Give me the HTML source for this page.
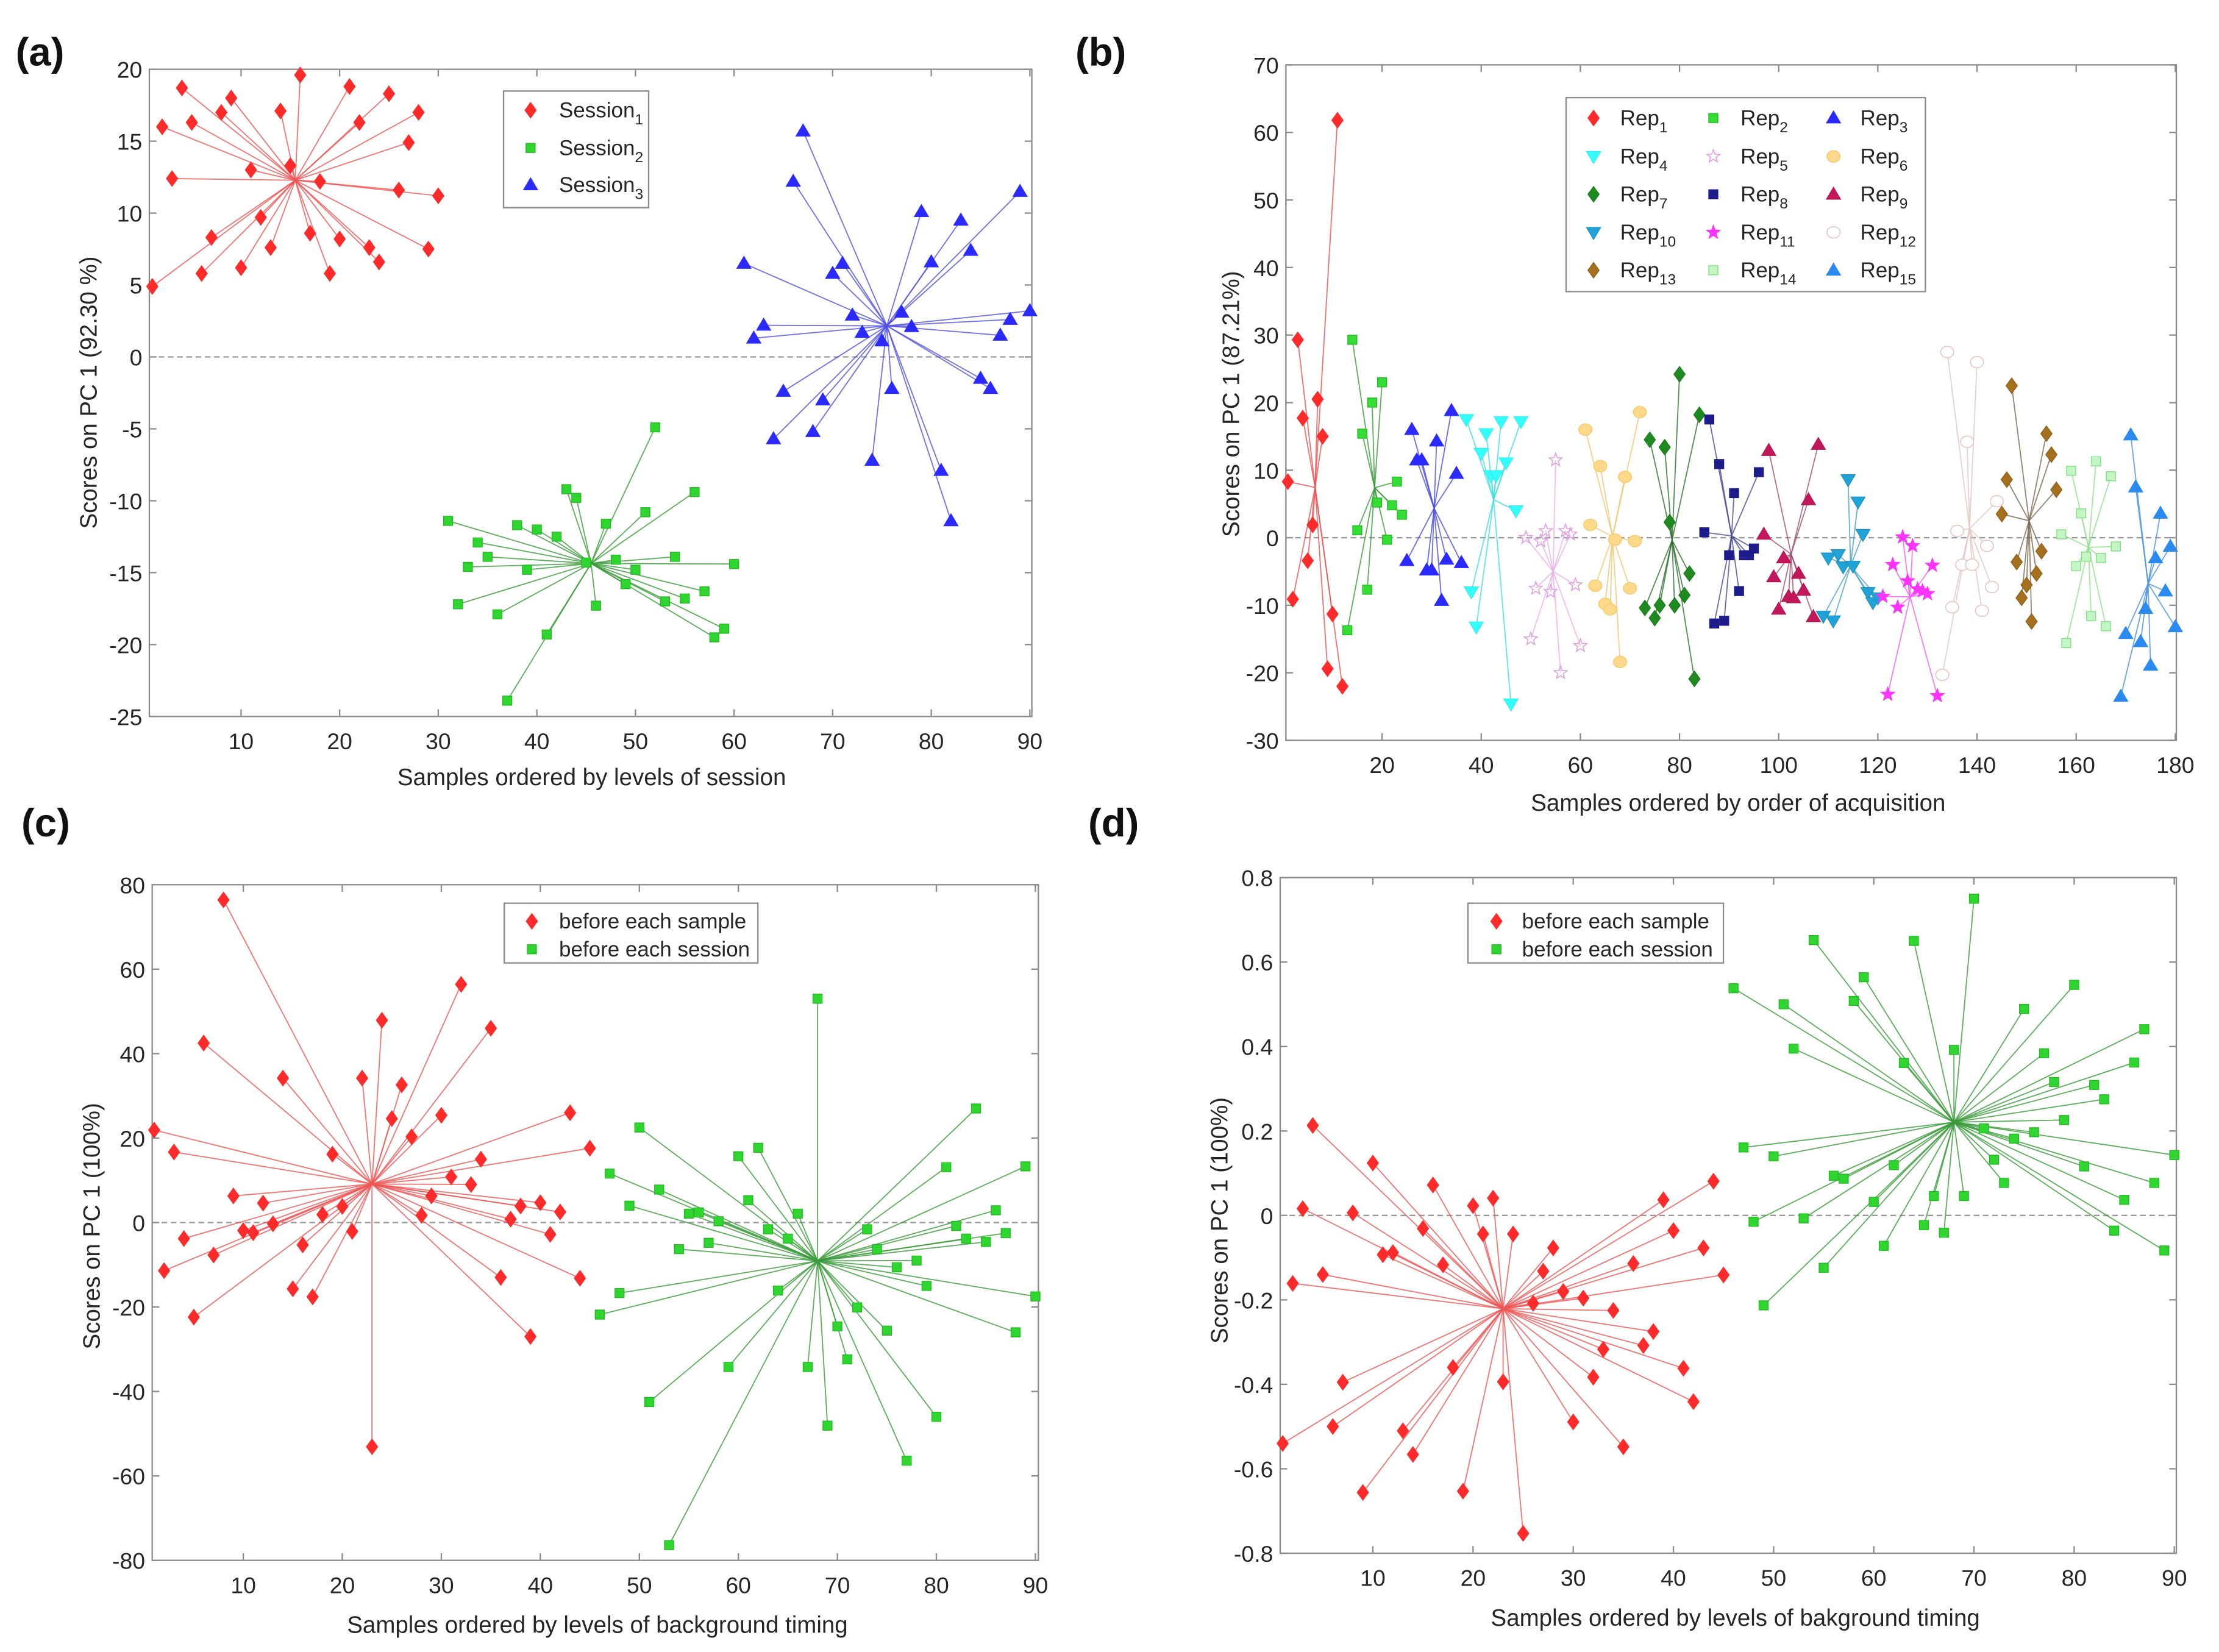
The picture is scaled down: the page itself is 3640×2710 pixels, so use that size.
<!DOCTYPE html>
<html><head><meta charset="utf-8"><style>
html,body{margin:0;padding:0;background:#fff;}
svg{display:block;font-family:"Liberation Sans",Arial,sans-serif;}
</style></head><body>
<svg id="fig" xmlns="http://www.w3.org/2000/svg" width="3640" height="2710" viewBox="0 0 1560 1161.43"></svg>
<script>
// ---------- Panel (a) data: PC1 scores per session (sample index = position) ----------
const aSession1 = [4.9,16,12.4,18.7,16.3,5.8,8.3,17,18,6.2,13,9.7,7.6,17.1,13.3,19.6,8.6,12.2,5.8,8.2,18.8,16.3,7.6,6.6,18.3,11.6,14.9,17,7.5,11.2];
const aSession2 = [-11.4,-17.2,-14.6,-12.9,-13.9,-17.9,-23.9,-11.7,-14.8,-12,-19.3,-12.5,-9.2,-9.8,-14.3,-17.3,-11.6,-14.1,-15.8,-14.8,-10.8,-4.9,-17,-13.9,-16.8,-9.4,-16.3,-19.5,-18.9,-14.4];
const aSession3 = [6.5,1.3,2.2,-5.7,-2.4,12.2,15.7,-5.2,-3,5.8,6.5,2.9,1.7,-7.2,1.1,-2.2,3.1,2.1,10.1,6.6,-7.9,-11.4,9.5,7.4,-1.5,-2.2,1.5,2.6,11.5,3.2];
const aXTicks = [10,20,30,40,50,60,70,80,90];
const aYTicks = [-25,-20,-15,-10,-5,0,5,10,15,20];
// ---------- Panel (b) data: 15 replicates x 12 samples ----------
const bRep1 = [8.3,-9.1,29.3,17.7,-3.4,1.9,20.5,15,-19.4,-11.3,61.8,-22];
const bRep2 = [-13.7,29.3,1.1,15.4,-7.7,20,5.2,23,-0.3,4.8,8.3,3.4];
const bRep3 = [-3.4,16,11.5,11.5,-4.8,-4.8,14.3,-9.3,-3.2,18.8,9.5,-3.7];
const bRep4 = [17.5,-8,-13.2,12.5,15.4,9.2,9.2,17.2,11.1,-24.6,4,17.2];
const bRep5 = [0,-15,-7.5,-0.5,1,-8,11.5,-20,1,0.5,-7,-16];
const bRep6 = [16,1.9,-7.1,10.6,-9.8,-10.6,-0.3,-18.4,9,-7.5,-0.5,18.6];
const bRep7 = [-10.4,14.5,-11.9,-10,13.4,2.3,-10,24.2,-8.5,-5.3,-20.9,18.2];
const bRep8 = [0.8,17.5,-12.7,10.9,-12.3,-2.6,6.6,-7.9,-2.6,-2.6,-1.6,9.7];
const bRep9 = [0.5,12.9,-5.8,-10.6,-3,-8.7,-8.9,-5.3,-7.8,5.6,-11.7,13.8];
const bRep10 = [-11.6,-3,-12.3,-2.5,-4.3,8.6,-4.2,5.3,0.5,-8.1,-9.6,-8.9];
const bRep11 = [-8.7,-23.2,-4,-10.3,0.1,-6.4,-1.2,-7.6,-7.9,-8.3,-4.1,-23.4];
const bRep12 = [-20.3,27.5,-10.3,1,-4,14.2,-4,26,-10.8,-1.2,-7.3,5.4];
const bRep13 = [3.5,8.6,22.5,-3.6,-8.9,-7,-12.4,-5.3,-2,15.4,12.3,7.1];
const bRep14 = [0.5,-15.6,9.9,-4.2,3.6,-2.8,-11.6,11.3,-3,-13.1,9.1,-1.3];
const bRep15 = [-23.5,-14.2,15.2,7.5,-15.4,-10.5,-18.9,-3,3.6,-7.9,-1.3,-13.2];
const bXTicks = [20,40,60,80,100,120,140,160,180];
const bYTicks = [-30,-20,-10,0,10,20,30,40,50,60,70];
// ---------- Panel (c) data ----------
const cSample = [21.9,-11.4,16.7,-3.8,-22.4,42.5,-7.7,76.4,6.3,-1.9,-2.4,4.6,-0.3,34.2,-15.7,-5.3,-17.6,1.9,16.2,3.8,-2.1,34.2,-53.1,47.9,24.6,32.6,20.3,1.7,6.3,25.4,10.8,56.4,9,15,46,-13,0.8,3.9,-27,4.7,-2.8,2.5,26,-13.2,17.6];
const cSession = [-21.8,11.6,-16.7,4,22.5,-42.5,7.8,-76.4,-6.3,2.1,2.4,-4.8,0.3,-34.2,15.7,5.3,17.7,-1.6,-16.1,-3.8,2.1,-34.2,53,-48.1,-24.6,-32.4,-20.1,-1.6,-6.3,-25.6,-10.6,-56.4,-9,-15,-46,13.1,-0.8,-3.8,27,-4.6,2.9,-2.5,-26,13.3,-17.5];
const cXTicks = [10,20,30,40,50,60,70,80,90];
const cYTicks = [-80,-60,-40,-20,0,20,40,60,80];
// ---------- Panel (d) data ----------
const dSample = [-0.54,-0.161,0.016,0.213,-0.14,-0.5,-0.395,0.006,-0.656,0.124,-0.093,-0.088,-0.51,-0.566,-0.031,0.072,-0.117,-0.36,-0.653,0.023,-0.044,0.041,-0.394,-0.044,-0.753,-0.208,-0.132,-0.077,-0.18,-0.489,-0.196,-0.383,-0.317,-0.225,-0.548,-0.114,-0.308,-0.275,0.037,-0.036,-0.362,-0.441,-0.077,0.081,-0.141];
const dSession = [0.538,0.161,-0.015,-0.213,0.14,0.5,0.395,-0.007,0.652,-0.124,0.094,0.087,0.508,0.564,0.032,-0.072,0.119,0.361,0.65,-0.023,0.046,-0.041,0.392,0.046,0.75,0.206,0.132,0.077,0.182,0.489,0.197,0.384,0.316,0.226,0.546,0.116,0.309,0.275,-0.036,0.037,0.362,0.441,0.077,-0.083,0.143];
const dXTicks = [10,20,30,40,50,60,70,80,90];
const dYTicks = [-0.8,-0.6,-0.4,-0.2,0,0.2,0.4,0.6,0.8];

const NS = "http://www.w3.org/2000/svg";
const fig = document.getElementById('fig');
function el(tag, attrs, parent){
  const e = document.createElementNS(NS, tag);
  for (const k in attrs) e.setAttribute(k, attrs[k]);
  (parent||fig).appendChild(e);
  return e;
}
function axes(p){
  p.sx = v => p.L + (v - p.x0) / (p.x1 - p.x0) * (p.R - p.L);
  p.sy = v => p.B - (v - p.y0) / (p.y1 - p.y0) * (p.B - p.T);
  return p;
}
function marker(g, type, x, y, fill, stroke){
  let e;
  if (type === 'diamond') e = el('polygon', {points:`${x},${y-5.5} ${x+4},${y} ${x},${y+5.5} ${x-4},${y}`, fill:fill, stroke:stroke, 'stroke-width':0.5}, g);
  else if (type === 'square') e = el('rect', {x:x-3.2, y:y-3.2, width:6.4, height:6.4, fill:fill, stroke:stroke, 'stroke-width':0.6}, g);
  else if (type === 'tri') e = el('polygon', {points:`${x},${y-5} ${x+5},${y+3.5} ${x-5},${y+3.5}`, fill:fill, stroke:stroke, 'stroke-width':0.5}, g);
  else if (type === 'tridown') e = el('polygon', {points:`${x},${y+5} ${x+5},${y-3.5} ${x-5},${y-3.5}`, fill:fill, stroke:stroke, 'stroke-width':0.5}, g);
  else if (type === 'circle') e = el('ellipse', {cx:x, cy:y, rx:4.6, ry:4, fill:fill, stroke:stroke, 'stroke-width':0.7}, g);
  else if (type === 'star') {
    let pts = [];
    for (let i=0;i<10;i++){ const r = i%2?2:4.8; const a = -Math.PI/2 + i*Math.PI/5; pts.push((x+r*Math.cos(a)).toFixed(2)+','+(y+r*Math.sin(a)).toFixed(2)); }
    e = el('polygon', {points:pts.join(' '), fill:fill, stroke:stroke, 'stroke-width':0.7}, g);
  }
  
  
  return e;
}
function text(str, x, y, size, anchor, parent, extra){
  const t = el('text', Object.assign({x:x, y:y, 'font-size':size, 'text-anchor':anchor||'start', fill:'#262626'}, extra||{}), parent);
  t.textContent = str;
  return t;
}
function frame(p, xt, yt, fmt, name){
  const g = el('g', {});
  
  
  const box = el('rect', {x:p.L, y:p.T, width:p.R-p.L, height:p.B-p.T, fill:'none', stroke:'#8c8c8c', 'stroke-width':1}, g);
  
  
  xt.forEach(v => {
    const X = p.sx(v);
    el('line', {x1:X, y1:p.B, x2:X, y2:p.B-5, stroke:'#8c8c8c'}, g);
    el('line', {x1:X, y1:p.T, x2:X, y2:p.T+5, stroke:'#8c8c8c'}, g);
    const t = text(String(v), X, p.B+23, 16, 'middle', g);
    
    
  });
  yt.forEach(v => {
    const Y = p.sy(v);
    el('line', {x1:p.L, y1:Y, x2:p.L+5, y2:Y, stroke:'#8c8c8c'}, g);
    el('line', {x1:p.R, y1:Y, x2:p.R-5, y2:Y, stroke:'#8c8c8c'}, g);
    const t = text(fmt(v), p.L-5, Y+6, 16, 'end', g);
    
    
  });
  const z = el('line', {x1:p.L, y1:p.sy(0), x2:p.R, y2:p.sy(0), stroke:'#9a9a9a', 'stroke-width':1, 'stroke-dasharray':'4,2.5'}, g);
  
  
}
function star(p, xs, ys, type, fill, stroke, lineCol, name){
  const g = el('g', {});
  
  
  const mx = xs.reduce((a,b)=>a+b,0)/xs.length, my = ys.reduce((a,b)=>a+b,0)/ys.length;
  const cx = p.sx(mx), cy = p.sy(my);
  xs.forEach((x,i) => {
    const l = el('line', {x1:cx, y1:cy, x2:p.sx(x), y2:p.sy(ys[i]), stroke:lineCol, 'stroke-width':0.8, 'stroke-opacity':0.8}, g);
    
    
  });
  xs.forEach((x,i) => marker(g, type, p.sx(x), p.sy(ys[i]), fill, stroke));
}
function ylabel(str, x, y){
  const t = text(str, x, y, 16.5, 'middle', fig, {transform:`rotate(-90 ${x} ${y})`});
  
  
}
function xlabel(str, x, y){
  const t = text(str, x, y, 16.5, 'middle');
  
  
}
function plabel(str, x, y){
  const t = text(str, x, y, 28, 'start', fig, {'font-weight':'bold', fill:'#111'});
  
  
}
function legendBox(x, y, w, h){
  const r = el('rect', {x:x, y:y, width:w, height:h, fill:'#fff', stroke:'#8c8c8c', 'stroke-width':1});
  
  
}
function legendEntry(type, fill, stroke, mx, tx, y, main, sub){
  marker(fig, type, mx, y, fill, stroke);
  const t = text(main, tx, y+5, 15, 'start');
  
  
  if (sub) { const s = el('tspan', {'font-size':10.5, dy:5}, t); s.textContent = sub; }
}
const idx = (arr, start) => arr.map((_, i) => start + i);

// ===== Panel (a) =====
const A = axes({L:105, R:725.4, T:48.7, B:503.7, x0:0.7, x1:90.2, y0:-25, y1:20});
frame(A, aXTicks, aYTicks, v=>String(v), 'panel-a');
star(A, idx(aSession1,1), aSession1, 'diamond', '#ff2a2a', '#ff2a2a', '#ee5555', 'series-session1');
star(A, idx(aSession2,31), aSession2, 'square', '#2fd62f', '#22bb22', '#3a9a3a', 'series-session2');
star(A, idx(aSession3,61), aSession3, 'tri', '#2a2aff', '#2a2aff', '#5050e0', 'series-session3');
legendBox(354, 64, 102, 82);
legendEntry('diamond', '#ff2a2a', '#ff2a2a', 373, 393, 77.5, 'Session', '1');
legendEntry('square', '#2fd62f', '#22bb22', 373, 393, 104, 'Session', '2');
legendEntry('tri', '#2a2aff', '#2a2aff', 373, 393, 130, 'Session', '3');
plabel('(a)', 11, 46);
ylabel('Scores on PC 1 (92.30 %)', 68, 276);
xlabel('Samples ordered by levels of session', 416, 552);

// ===== Panel (b) =====
const B = axes({L:904, R:1530, T:45.6, B:520.5, x0:0.6, x1:180.2, y0:-30, y1:70});
frame(B, bXTicks, bYTicks, v=>String(v), 'panel-b');
const reps = [bRep1,bRep2,bRep3,bRep4,bRep5,bRep6,bRep7,bRep8,bRep9,bRep10,bRep11,bRep12,bRep13,bRep14,bRep15];
const repStyle = [
  ['diamond','#ff2a2a','#ff2a2a','#ee5050'],['square','#33dd33','#22bb22','#3a9a3a'],['tri','#2a2aff','#2a2aff','#4a4ae0'],
  ['tridown','#33ffff','#33eeee','#40dede'],['star','none','#e0a0e0','#e8b0e8'],['circle','#ffd98a','#f5cc70','#efc870'],
  ['diamond','#1f8a1f','#1a7a1a','#2f6f2f'],['square','#1c1c8c','#1c1c8c','#4a4a90'],['tri','#c2185b','#b01550','#a05070'],
  ['tridown','#1fa3d8','#1a90c0','#4aa0c8'],['star','#ff33ff','#ff33ff','#f060f0'],['circle','#fff','#e8c6be','#e0c8c0'],
  ['diamond','#a5701e','#8a5c14','#7a6850'],['square','#c4f5c4','#80e080','#90e090'],['tri','#2a8af0','#2a8af0','#4a90e0']];
reps.forEach((r, k) => {
  const s = repStyle[k];
  star(B, idx(r, k*12+1), r, s[0], s[1], s[2], s[3], 'series-rep' + (k+1));
});
legendBox(1101, 68.6, 252.6, 136.4);
const colX = [[1120.3,1139],[1204.5,1223.6],[1289,1307.8]];
const rowY = [83,110,136.6,163.4,190];
reps.forEach((r, k) => {
  const s = repStyle[k];
  legendEntry(s[0], s[1], s[2], colX[k%3][0], colX[k%3][1], rowY[Math.floor(k/3)], 'Rep', String(k+1));
});
plabel('(b)', 756, 46);
ylabel('Scores on PC 1 (87.21%)', 871, 284);
xlabel('Samples ordered by order of acquisition', 1222, 570);

// ===== Panel (c) =====
const C = axes({L:107, R:730, T:622, B:1097, x0:0.8, x1:90.3, y0:-80, y1:80});
frame(C, cXTicks, cYTicks, v=>String(v), 'panel-c');
star(C, idx(cSample,1), cSample, 'diamond', '#ff2a2a', '#ff2a2a', '#ee5555', 'series-before-each-sample');
star(C, idx(cSession,46), cSession, 'square', '#2fd62f', '#22bb22', '#3a9a3a', 'series-before-each-session');
legendBox(354.5, 635, 178.3, 42);
legendEntry('diamond', '#ff2a2a', '#ff2a2a', 373.9, 393, 647.7, 'before each sample');
legendEntry('square', '#2fd62f', '#22bb22', 373.9, 393, 667.4, 'before each session');
plabel('(c)', 15, 588);
ylabel('Scores on PC 1 (100%)', 70, 862);
xlabel('Samples ordered by levels of background timing', 420, 1148);

// ===== Panel (d) =====
const D = axes({L:900, R:1530, T:617, B:1092, x0:0.75, x1:90.2, y0:-0.8, y1:0.8});
frame(D, dXTicks, dYTicks, v=>String(Math.round(v*10)/10), 'panel-d');
star(D, idx(dSample,1), dSample, 'diamond', '#ff2a2a', '#ff2a2a', '#ee5555', 'series-before-each-sample');
star(D, idx(dSession,46), dSession, 'square', '#2fd62f', '#22bb22', '#3a9a3a', 'series-before-each-session');
legendBox(1032, 635, 179.6, 42);
legendEntry('diamond', '#ff2a2a', '#ff2a2a', 1052, 1070, 647.7, 'before each sample');
legendEntry('square', '#2fd62f', '#22bb22', 1052, 1070, 667.4, 'before each session');
plabel('(d)', 765, 588);
ylabel('Scores on PC 1 (100%)', 863, 858);
xlabel('Samples ordered by levels of bakground timing', 1220, 1143);
</script>
</body></html>
